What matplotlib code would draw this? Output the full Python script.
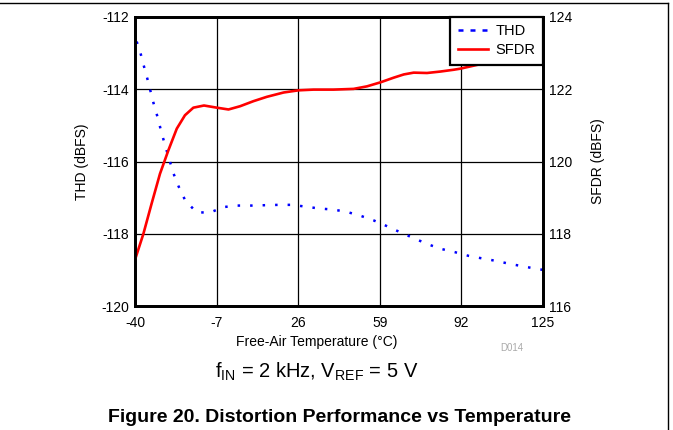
import matplotlib
matplotlib.use("Agg")
import matplotlib.pyplot as plt
from matplotlib.lines import Line2D

plt.rcParams['font.family'] = ['Liberation Sans', 'DejaVu Sans']
plt.rcParams['mathtext.fontset'] = 'custom'
plt.rcParams['mathtext.rm'] = 'Liberation Sans'
plt.rcParams['mathtext.it'] = 'Liberation Sans:italic'
plt.rcParams['axes.unicode_minus'] = False

# THD data (left axis)
thd_temp = [-40, -38, -36.6, -35, -33.7, -32.3, -30.7, -29.3, -27.7, -26.1, -24.5, -22.3,
            -19.6, -15, -9.6, -4, 1.4, 7.1, 12.5, 18.2, 23.6, 29, 34.4, 40, 45.4, 51.1,
            56.5, 61.9, 67.3, 73, 78.4, 83.8, 89.4, 94.8, 100.2, 105.9, 111.3, 116.7, 122.3, 125]
thd_val = [-112.55, -112.94, -113.31, -113.71, -114.06, -114.44, -114.81, -115.20, -115.58,
           -115.95, -116.32, -116.70, -117.09, -117.41, -117.41, -117.26, -117.22, -117.22,
           -117.21, -117.20, -117.20, -117.25, -117.30, -117.33, -117.39, -117.50, -117.63,
           -117.79, -117.96, -118.13, -118.29, -118.42, -118.51, -118.61, -118.68, -118.75,
           -118.83, -118.90, -118.97, -119.0]

# SFDR data (right axis)
sfdr_temp = [-40, -36.6, -33.3, -29.9, -26.5, -23.1, -19.8, -16.4, -12.1, -6.9, -2.2, 2.5,
             7.9, 13.3, 20.1, 26.1, 32.2, 40.3, 48.4, 53.8, 59.2, 64.6, 68.7, 72.7, 78.1,
             83.5, 88.9, 91.6, 100, 110, 125]
sfdr_val = [117.28, 118.0, 118.83, 119.66, 120.31, 120.91, 121.28, 121.49, 121.55, 121.49,
            121.44, 121.53, 121.67, 121.79, 121.91, 121.97, 121.99, 121.99, 122.01, 122.08,
            122.19, 122.32, 122.41, 122.46, 122.45, 122.49, 122.54, 122.57, 122.7, 122.8, 122.9]

x_ticks = [-40, -7, 26, 59, 92, 125]
thd_ticks = [-120, -118, -116, -114, -112]
sfdr_ticks = [116, 118, 120, 122, 124]

W, H = 673, 430
fig = plt.figure(figsize=(W / 100, H / 100), dpi=100)
ax = fig.add_axes([135 / W, (H - 306) / H, 408 / W, 289 / H])
ax2 = ax.twinx()

ax.plot(thd_temp, thd_val, color='#0000ff', lw=1.8, linestyle=(3, (1, 4)), label='THD')
ax2.plot(sfdr_temp, sfdr_val, color='#ff0000', lw=1.9, label='SFDR')

ax.set_xlim(-40, 125)
ax.set_ylim(-120, -112)
ax2.set_ylim(116, 124)
ax.set_xticks(x_ticks)
ax.set_yticks(thd_ticks)
ax2.set_yticks(sfdr_ticks)
ax.tick_params(axis='y', length=0, labelsize=10, pad=4)
ax.tick_params(axis='x', length=0, labelsize=10, pad=7.5)
ax2.tick_params(length=0, labelsize=10, pad=4)
ax.grid(True, color='black', lw=0.9)
for a in (ax, ax2):
    for s in a.spines.values():
        s.set_linewidth(2)
        s.set_color('black')

ax.set_xlabel('Free-Air Temperature (°C)', fontsize=10)
ax.xaxis.set_label_coords((317 - 135) / 408, -0.1)
ax.set_ylabel('THD (dBFS)', fontsize=10, labelpad=9)
ax2.set_ylabel('SFDR (dBFS)', fontsize=10, labelpad=14)

h1 = Line2D([], [], color='#0000ff', lw=1.8, linestyle=(0, (2, 2.8)))
h2 = Line2D([], [], color='#ff0000', lw=1.9)
leg = ax2.legend([h1, h2], ['THD', 'SFDR'], loc='upper right', fontsize=10.5,
                 fancybox=False, framealpha=1, edgecolor='black', borderpad=0.5,
                 handlelength=2.1, handletextpad=0.5, labelspacing=0.35,
                 borderaxespad=0)
leg.get_frame().set_linewidth(1.6)

fig.text(512 / W, 1 - 348 / H, 'D014', fontsize=7, color='#aaaaaa', ha='center', va='center')
fig.text(317 / W, 1 - 372 / H, r'f$_{\mathrm{IN}}$ = 2 kHz, V$_{\mathrm{REF}}$ = 5 V',
         fontsize=14.5, ha='center', va='center')
fig.text(340 / W, 1 - 417 / H, 'Figure 20. Distortion Performance vs Temperature',
         fontsize=14, fontweight='bold', ha='center', va='center')

fig.add_artist(Line2D([0, 668 / W], [1 - 3 / H, 1 - 3 / H], color='black', lw=1))
fig.add_artist(Line2D([668 / W, 668 / W], [1 - 3 / H, 0], color='black', lw=1))

fig.savefig('out.png', dpi=100)
